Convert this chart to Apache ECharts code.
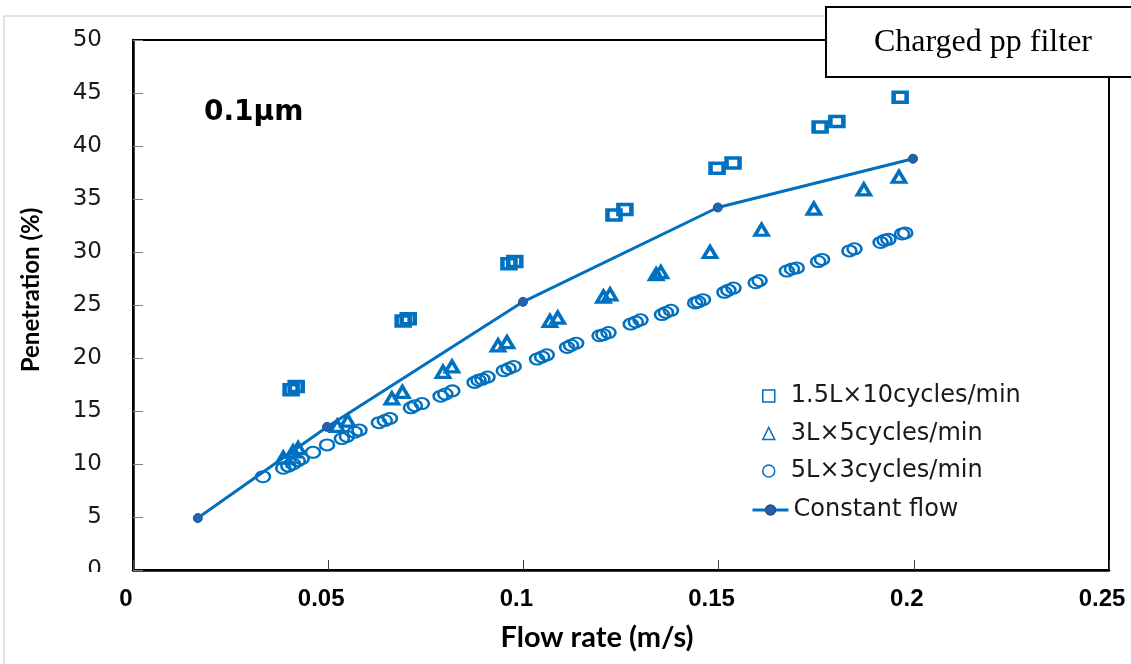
<!DOCTYPE html>
<html>
<head>
<meta charset="utf-8">
<script src="https://cdn.jsdelivr.net/npm/echarts@6/dist/echarts.min.js"></script>
<style>html,body{margin:0;padding:0;background:#fff;}#c{width:1131px;height:664px;}</style>
</head>
<body>
<div id="c"></div>
<script>
// ---- data (flow rate m/s, penetration %) ----
const seriesNames = ['1.5L×10cycles/min', '3L×5cycles/min', '5L×3cycles/min', 'Constant flow'];
const squares = [
  [0.0405,17.0],[0.0418,17.3],[0.0692,23.5],[0.0705,23.7],[0.0963,28.9],[0.0978,29.1],
  [0.1232,33.5],[0.1260,34.0],[0.1496,37.9],[0.1537,38.4],[0.1760,41.8],[0.1803,42.3],[0.1965,44.6]
];
const triangles = [
  [0.0385,10.6],[0.0410,11.2],[0.0423,11.5],[0.0523,13.6],[0.0550,14.1],[0.0663,16.2],[0.0690,16.8],
  [0.0794,18.7],[0.0817,19.2],[0.0935,21.2],[0.0958,21.5],[0.1068,23.5],[0.1088,23.8],
  [0.1205,25.8],[0.1222,26.0],[0.1340,27.9],[0.1352,28.1],[0.1478,30.0],[0.1610,32.1],
  [0.1744,34.1],[0.1872,35.9],[0.1962,37.1]
];
const circles = [
  [0.0333,8.8],[0.0385,9.6],[0.0398,9.8],[0.0410,10.0],[0.0422,10.3],[0.0432,10.5],
  [0.0461,11.1],[0.0497,11.8],[0.0535,12.4],[0.0548,12.6],[0.0568,13.0],[0.0580,13.2],
  [0.0630,13.9],[0.0645,14.1],[0.0658,14.3],[0.0712,15.3],[0.0722,15.5],[0.0740,15.7],
  [0.0788,16.4],[0.0800,16.6],[0.0818,16.9],[0.0875,17.7],[0.0885,17.9],[0.0895,18.0],[0.0908,18.2],
  [0.0950,18.8],[0.0962,19.0],[0.0975,19.2],[0.1035,19.9],[0.1048,20.1],[0.1060,20.3],
  [0.1112,21.0],[0.1122,21.2],[0.1135,21.4],[0.1195,22.1],[0.1205,22.2],[0.1218,22.4],
  [0.1275,23.2],[0.1288,23.4],[0.1300,23.6],[0.1355,24.1],[0.1365,24.3],[0.1378,24.5],
  [0.1440,25.2],[0.1448,25.3],[0.1460,25.5],[0.1515,26.2],[0.1525,26.4],[0.1538,26.6],
  [0.1595,27.1],[0.1605,27.3],[0.1675,28.2],[0.1688,28.4],[0.1700,28.5],
  [0.1755,29.1],[0.1765,29.3],[0.1835,30.1],[0.1848,30.3],
  [0.1915,30.9],[0.1925,31.1],[0.1935,31.2],[0.1970,31.7],[0.1978,31.8]
];
const constantFlow = [[0.0166,4.9],[0.0497,13.5],[0.0999,25.3],[0.1498,34.2],[0.1998,38.8]];
const xTicks = {min: 0, max: 0.25, interval: 0.05};
const yTicks = {min: 0, max: 50, interval: 5};
const xTitle = 'Flow rate (m/s)';
const yTitle = 'Penetration (%)';
const sizeLabel = '0.1µm';
const boxLabel = 'Charged pp filter';

const BLUE = '#0070C0';
const legendText = {fontFamily: 'DejaVu Sans', fontSize: 24, color: '#1a1a1a', lineHeight: 24};
const chart = echarts.init(document.getElementById('c'), null, {renderer: 'canvas'});
const option = {
  backgroundColor: '#ffffff',
  animation: false,
  grid: {left: 133, top: 40, width: 976, height: 530, show: true, borderColor: '#000', borderWidth: 2, backgroundColor: 'transparent'},
  xAxis: {
    type: 'value', min: xTicks.min, max: xTicks.max, interval: xTicks.interval,
    axisLine: {show: true, lineStyle: {color: '#000', width: 2.5}},
    axisTick: {show: true, inside: true, length: 10, lineStyle: {color: '#404040', width: 1}},
    splitLine: {show: false},
    axisLabel: {margin: 17, fontFamily: '"Liberation Sans"', fontWeight: 'bold', fontSize: 24, color: '#000', padding: [0, 14, 0, 0]},
    name: xTitle, nameLocation: 'middle', nameGap: 53,
    nameTextStyle: {fontFamily: 'Lato', fontWeight: 'bold', fontSize: 29, color: '#000', padding: [0, 48, 0, 0]}
  },
  yAxis: {
    type: 'value', min: yTicks.min, max: yTicks.max, interval: yTicks.interval,
    axisLine: {show: true, lineStyle: {color: '#000', width: 2.5}},
    axisTick: {show: true, inside: true, length: 10, lineStyle: {color: '#7f7f7f', width: 1}},
    splitLine: {show: false},
    axisLabel: {margin: 31, fontFamily: 'DejaVu Sans', fontSize: 23, color: '#1a1a1a'},
    name: yTitle, nameLocation: 'middle', nameGap: 90,
    nameTextStyle: {fontFamily: 'Lato', fontWeight: 'bold', fontSize: 24, color: '#000', padding: [0, 0, 0, 30]}
  },
  legend: [
    {
      data: [
        {name: seriesNames[0], itemStyle: {borderWidth: 1.5}},
        {name: seriesNames[1], itemStyle: {borderWidth: 1.5}},
        {name: seriesNames[2], itemStyle: {borderWidth: 1.5}}
      ],
      orient: 'vertical', left: 762, top: 384, itemWidth: 12, itemHeight: 12, itemGap: 13.5, padding: 0,
      textStyle: Object.assign({padding: [0, 0, 0, 11]}, legendText)
    },
    {
      data: [{name: seriesNames[3], lineStyle: {width: 3, color: BLUE}}],
      orient: 'vertical', left: 751, top: 498, itemWidth: 36, itemHeight: 12, padding: 0,
      textStyle: legendText
    }
  ],
  series: [
    {name: seriesNames[0], type: 'scatter', data: squares, symbol: 'rect', symbolSize: [13, 10],
     itemStyle: {color: 'rgba(255,255,255,0)', borderColor: BLUE, borderWidth: 4, opacity: 1}, z: 3},
    {name: seriesNames[1], type: 'scatter', data: triangles, symbol: 'triangle', symbolSize: [13, 11],
     itemStyle: {color: 'rgba(255,255,255,0)', borderColor: BLUE, borderWidth: 3.5, opacity: 1}, z: 3},
    {name: seriesNames[2], type: 'scatter', data: circles, symbol: 'circle', symbolSize: [14, 11],
     itemStyle: {color: 'rgba(255,255,255,0)', borderColor: BLUE, borderWidth: 2.3, opacity: 1}, z: 3},
    {name: seriesNames[3], type: 'line', data: constantFlow, symbol: 'circle', symbolSize: 9, showSymbol: true,
     lineStyle: {color: BLUE, width: 3}, itemStyle: {color: '#1F63B4', borderColor: '#2D4F86', borderWidth: 1}, z: 4}
  ],
  graphic: [
    {type: 'rect', z: 50, shape: {x: 4, y: 16, width: 1300, height: 800}, style: {fill: 'none', stroke: '#d9d9d9', lineWidth: 1.5}},
    {type: 'rect', z: 60, shape: {x: 84, y: 572, width: 28, height: 12}, style: {fill: '#fff', stroke: 'none'}},
    {type: 'rect', z: 100, shape: {x: 826, y: 7, width: 400, height: 70}, style: {fill: '#fff', stroke: '#000', lineWidth: 2}},
    {type: 'text', z: 101, x: 983, y: 43, style: {text: boxLabel, font: '32px "Liberation Serif"', fill: '#000', align: 'center', verticalAlign: 'middle'}},
    {type: 'text', z: 101, x: 204, y: 113, style: {text: sizeLabel, font: 'bold 28px "DejaVu Sans"', fill: '#000', align: 'left', verticalAlign: 'middle'}}
  ]
};
chart.setOption(option);
</script>
</body>
</html>
